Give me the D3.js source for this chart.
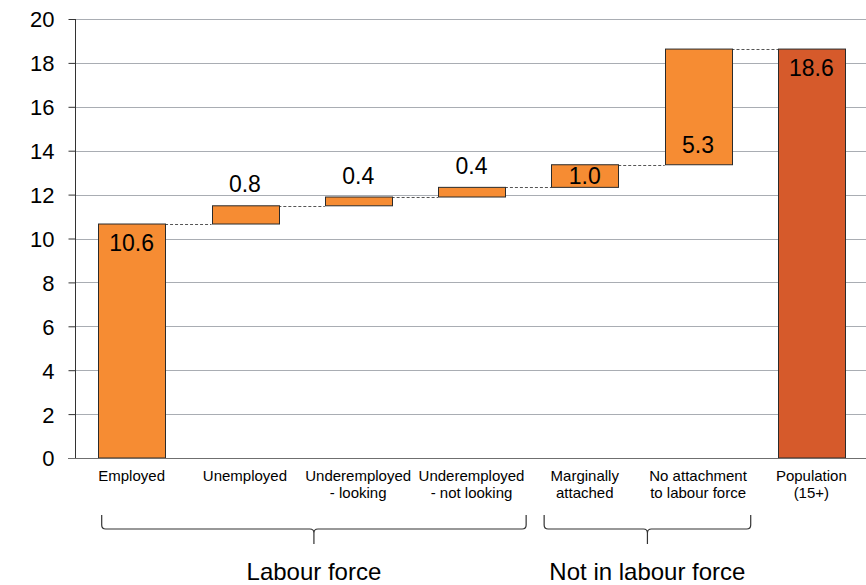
<!DOCTYPE html>
<html>
<head>
<meta charset="utf-8">
<script src="https://cdn.jsdelivr.net/npm/d3@7"></script>
<style>
  html, body { margin: 0; padding: 0; background: #fff; }
  svg { display: block; font-family: "Liberation Sans", Arial, sans-serif; }
</style>
</head>
<body>
<svg id="chart" width="866" height="585"></svg>
<script>
// ---- data ----
const categories = ["Employed", "Unemployed", "Underemployed\n- looking", "Underemployed\n- not looking",
                    "Marginally\nattached", "No attachment\nto labour force", "Population\n(15+)"];
const values = [10.66, 0.83, 0.40, 0.44, 1.03, 5.27, 18.63];   // last is the total
const isTotal = [false, false, false, false, false, false, true];
const valueLabels = ["10.6", "0.8", "0.4", "0.4", "1.0", "5.3", "18.6"];
const labelMode = ["insideTop", "above", "above", "above", "center", "insideBase", "insideTop"];
const yTicks = [0, 2, 4, 6, 8, 10, 12, 14, 16, 18, 20];
const groupNames = ["Labour force", "Not in labour force"];
const groupFrom = [0, 4];
const groupTo = [3, 5];

// ---- layout ----
const svg = d3.select("#chart");
const outerPad = 0.205;
const x = d3.scaleBand().domain(d3.range(categories.length)).range([75, 868])
  .paddingInner(0.41).paddingOuter(outerPad);
const y = d3.scaleLinear().domain([0, 20]).range([458, 19]);
const bandStart = i => x(i) - x.step() * outerPad;
const bandEnd = i => bandStart(i) + x.step();

// cumulative bases
let run = 0;
const bars = values.map((v, i) => {
  let lo, hi;
  if (isTotal[i]) { lo = 0; hi = v; }
  else { lo = run; hi = run + v; run = hi; }
  return { i, lo, hi };
});

// gridlines
svg.append("g").selectAll("line").data(yTicks.filter(t => t > 0)).join("line")
  .attr("x1", 75).attr("x2", 866)
  .attr("y1", d => Math.round(y(d)) + 0.5).attr("y2", d => Math.round(y(d)) + 0.5)
  .attr("stroke", "#a9adb3").attr("stroke-width", 1);

// y axis
const yAxis = d3.axisLeft(y).tickValues(yTicks).tickSize(7).tickPadding(14).tickFormat(d3.format("d"));
const ga = svg.append("g").attr("transform", "translate(75.5,0)").call(yAxis);
ga.select(".domain").attr("stroke", "#333").attr("d", `M-0,${y(0)}V${y(20)}`);
ga.selectAll(".tick line").attr("stroke", "#333");
ga.selectAll(".tick text").attr("font-size", 22).attr("fill", "#000")
  .attr("font-family", "'Liberation Sans', Arial, sans-serif").attr("dy", "0.36em");

// connectors (dashed)
const conn = [];
for (let i = 0; i < bars.length - 1; i++) {
  conn.push({ x1: x(i) + x.bandwidth(), x2: x(i + 1), v: bars[i].hi });
}
svg.append("g").selectAll("line").data(conn).join("line")
  .attr("x1", d => d.x1).attr("x2", d => d.x2)
  .attr("y1", d => Math.round(y(d.v)) + 0.5).attr("y2", d => Math.round(y(d.v)) + 0.5)
  .attr("stroke", "#555").attr("stroke-width", 1).attr("stroke-dasharray", "3,2");

// bars
svg.append("g").selectAll("rect").data(bars).join("rect")
  .attr("x", d => Math.round(x(d.i)) + 0.5)
  .attr("y", d => y(d.hi))
  .attr("width", Math.round(x.bandwidth()))
  .attr("height", d => y(d.lo) - y(d.hi))
  .attr("fill", d => isTotal[d.i] ? "#d65a2b" : "#f68c33")
  .attr("stroke", "#2b2b2b").attr("stroke-width", 1);

// zero baseline
svg.append("line").attr("x1", 68).attr("x2", 866)
  .attr("y1", Math.round(y(0)) + 0.5).attr("y2", Math.round(y(0)) + 0.5)
  .attr("stroke", "#6f6f6f").attr("stroke-width", 1.2);

// value labels
svg.append("g").selectAll("text").data(bars).join("text")
  .attr("x", d => x(d.i) + x.bandwidth() / 2)
  .attr("y", d => {
    const m = labelMode[d.i];
    if (m === "above") return y(d.hi) - 13.5;
    if (m === "insideTop") return y(d.hi) + 27;
    if (m === "insideBase") return y(d.lo) - 12;
    return (y(d.hi) + y(d.lo)) / 2 + 8;
  })
  .attr("text-anchor", "middle").attr("font-size", 23).attr("fill", "#000")
  .text(d => valueLabels[d.i]);

// category labels
const cat = svg.append("g").selectAll("text").data(categories).join("text")
  .attr("x", (d, i) => x(i) + x.bandwidth() / 2)
  .attr("y", 480.5)
  .attr("text-anchor", "middle").attr("font-size", 15).attr("fill", "#000");
cat.each(function (d) {
  const t = d3.select(this);
  d.split("\n").forEach((line, k) => {
    t.append("tspan").attr("x", t.attr("x")).attr("dy", k === 0 ? 0 : 17).text(line);
  });
});

// group braces
const braceLeftOff = [26.7, 16];
const braceRightOff = [-2, -4];
const gb = svg.append("g");
groupNames.forEach((name, g) => {
  const L = bandStart(groupFrom[g]) + braceLeftOff[g];
  const R = bandEnd(groupTo[g]) + braceRightOff[g];
  const M = (L + R) / 2;
  const top = 515, mid = 529, bot = 544;
  const p = `M${L},${top} L${L},${mid - 4} Q${L},${mid} ${L + 4},${mid} L${M - 4},${mid} Q${M},${mid} ${M},${mid + 4} L${M},${bot}` +
            ` M${R},${top} L${R},${mid - 4} Q${R},${mid} ${R - 4},${mid} L${M + 4},${mid} Q${M},${mid} ${M},${mid + 4}`;
  gb.append("path").attr("d", p).attr("fill", "none").attr("stroke", "#333").attr("stroke-width", 1.2);
  gb.append("text").attr("x", M).attr("y", 580).attr("text-anchor", "middle")
    .attr("font-size", 24).attr("fill", "#000").text(name);
});
</script>
</body>
</html>
